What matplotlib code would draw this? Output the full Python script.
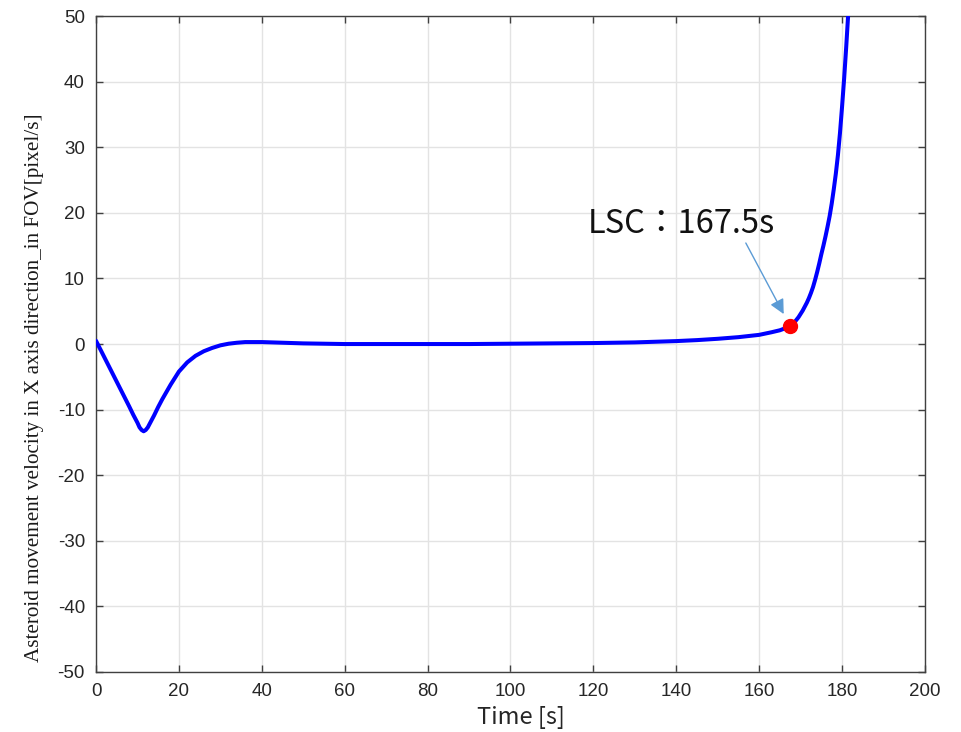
import matplotlib
matplotlib.use('Agg')
import matplotlib.pyplot as plt

plt.rcParams['axes.unicode_minus'] = False

# velocity history
time_s = [0, 2, 4, 6, 8, 9, 10, 10.5, 11, 11.5, 12, 12.5, 13, 14, 15, 16, 18,
          20, 22, 24, 26, 28, 30, 32, 34, 36, 40, 45, 50, 60, 70, 80, 90, 100,
          110, 120, 130, 140, 145, 150, 155, 160, 163, 165, 167.5, 168, 168.5,
          169, 169.5, 170, 170.5, 171, 171.5, 172, 172.5, 173, 173.5, 174,
          174.5, 175, 175.5, 176, 176.5, 177, 177.5, 178, 178.5, 179, 179.5,
          180, 180.5, 181, 181.5]
vel_x = [0.5, -2.0, -4.5, -7.0, -9.5, -10.8, -12.0, -12.7, -13.1, -13.3, -13.1,
         -12.7, -12.1, -10.9, -9.6, -8.4, -6.2, -4.2, -2.8, -1.8, -1.1, -0.6,
         -0.2, 0.05, 0.2, 0.3, 0.3, 0.2, 0.1, 0.0, 0.0, 0.0, 0.0, 0.05, 0.1,
         0.15, 0.25, 0.45, 0.6, 0.8, 1.05, 1.4, 1.8, 2.1, 2.7, 3.0, 3.3, 3.7,
         4.1, 4.6, 5.1, 5.7, 6.3, 7.0, 7.8, 8.7, 9.8, 11.0, 12.3, 13.7, 15.0,
         16.4, 17.9, 19.5, 21.4, 23.6, 26.0, 28.8, 32.2, 36.2, 40.5, 45.3, 50.5]

lsc_t = 167.5
lsc_v = 2.7
lsc_label = 'LSC：167.5s'

xticks = list(range(0, 201, 20))
yticks = list(range(-50, 51, 10))

fig = plt.figure(figsize=(9.62, 7.32), dpi=100)
ax = fig.add_axes([0.0998, 0.082, 0.8617, 0.896])

ax.plot(time_s, vel_x, color='#0000ff', linewidth=2.9, solid_capstyle='round',
        solid_joinstyle='round', zorder=3)
ax.plot([lsc_t], [lsc_v], 'o', color='#ff0000', markersize=10, zorder=4)

ax.set_xlim(0, 200)
ax.set_ylim(-50, 50)
ax.set_xticks(xticks)
ax.set_yticks(yticks)
ax.grid(True, color='#e3e3e3', linewidth=1.0)
ax.set_axisbelow(True)

ax.tick_params(direction='in', top=True, right=True, length=5, width=1,
               color='#404040', labelcolor='#262626', labelsize=13.5, pad=8)
for lbl in ax.get_xticklabels() + ax.get_yticklabels():
    lbl.set_family('Liberation Sans')
for sp in ax.spines.values():
    sp.set_color('#404040')
    sp.set_linewidth(1.0)

ax.set_xlabel('Time [s]', family=['Noto Sans CJK JP', 'DejaVu Sans'],
              fontsize=17, color='#262626')
ax.xaxis.set_label_coords(0.513, -0.052)
ax.set_ylabel('Asteroid movement velocity in X axis direction_in FOV[pixel/s]',
              family='Liberation Serif', fontsize=15.2, color='#1a1a1a')
ax.yaxis.set_label_coords(-0.063, 0.434)

# arrow pointing at the LSC point
ax.annotate('', xy=(lsc_t, lsc_v), xytext=(-32, 60), textcoords='offset points',
            arrowprops=dict(arrowstyle='-|>', color='#5b9bd5', lw=1.0,
                            mutation_scale=22, shrinkA=0, shrinkB=10))
ax.text(118.7, 18.3, lsc_label, family=['Noto Sans CJK JP', 'DejaVu Sans'],
        fontsize=23.5, color='#111111', va='center', ha='left')

fig.savefig('out.png', dpi=100)
